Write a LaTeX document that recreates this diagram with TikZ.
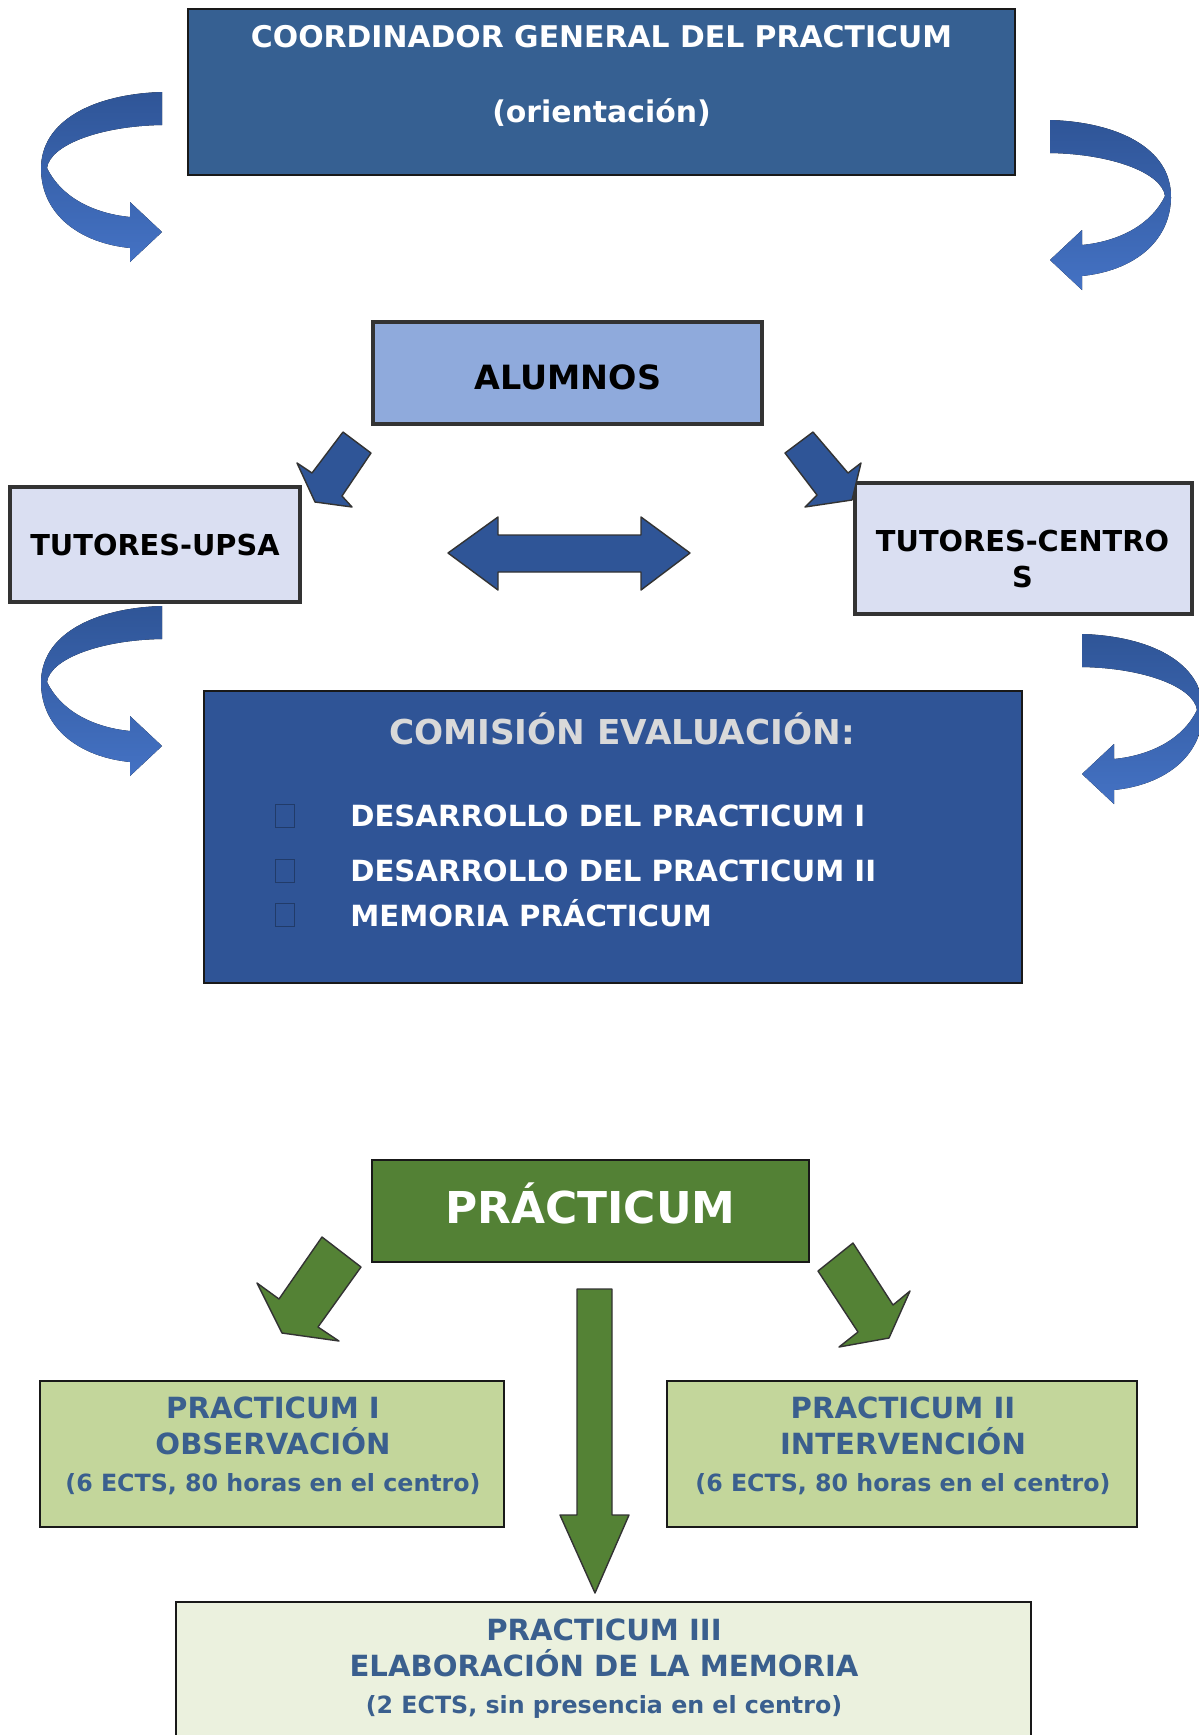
\documentclass[tikz,border=0pt]{standalone}
\usepackage{fontspec}
\setmainfont{DejaVu Sans}
\usetikzlibrary{positioning}

\definecolor{coordblue}{HTML}{366092}
\definecolor{alumblue}{HTML}{8FAADC}
\definecolor{tutblue}{HTML}{DADFF2}
\definecolor{comblue}{HTML}{2F5496}
\definecolor{arrblue}{HTML}{2F5597}
\definecolor{bendtop}{HTML}{2F5597}
\definecolor{bendbot}{HTML}{4472C4}
\definecolor{pracgreen}{HTML}{538135}
\definecolor{arrgreen}{HTML}{548235}
\definecolor{boxgreen}{HTML}{C3D69B}
\definecolor{palegreen}{HTML}{EBF1DE}
\definecolor{txtblue}{HTML}{3A5F8E}

\tikzset{
  pics/bend/.style={code={
    \fill[top color=bendtop,bottom color=bendbot]
      (0,0) -- (0,33) .. controls (-62,34) and (-112,53) .. (-115,76)
      .. controls (-102,103) and (-72,121) .. (-32,125)
      -- (-32,110) -- (0,140) -- (-32,170) -- (-32,156)
      .. controls (-82,151) and (-120,123) .. (-121,78)
      .. controls (-122,28) and (-67,2) .. (0,0) -- cycle;
  }}
}

\begin{document}
\begin{tikzpicture}[x=0.02cm,y=-0.02cm,
  box/.style={rectangle,draw=black!90,line width=1pt,
    inner sep=0pt,outer sep=0pt,align=center},
  thickbox/.style={box,draw=black!80,line width=2pt},
  txt/.style={inner sep=0pt,align=center,font=\bfseries\fontsize{16.6}{20.7}\selectfont},
  blockblue/.style={fill=arrblue,draw=black!80,line width=0.8pt,line join=round},
  blockgreen/.style={fill=arrgreen,draw=black!80,line width=0.8pt,line join=round},
  bullet/.style={rectangle,draw=comblue!70!black,line width=0.7pt,
    minimum width=0.38cm,minimum height=0.46cm,inner sep=0pt}]

\useasboundingbox (0,0) rectangle (1198,1735);

% coordinador
\node[box,fill=coordblue,minimum width=16.54cm,minimum height=3.32cm] (CG) at (601.5, 92) {};
\node[txt,white,font=\bfseries\fontsize{17}{20}\selectfont] (CGa) at (601.5, 37) {COORDINADOR GENERAL DEL PRACTICUM};
\node[txt,white,font=\bfseries\fontsize{17}{20}\selectfont] (CGb) at (601.5, 113) {(orientación)};

\pic at (162, 92) {bend};
\pic[xscale=-1] at (1050, 120) {bend};

% alumnos y tutores
\node[thickbox,fill=alumblue,minimum width=7.78cm,minimum height=2.04cm] (AL) at (567.5, 373) {};
\node[txt,font=\bfseries\fontsize{19}{22}\selectfont] (ALt) at (568, 377) {ALUMNOS};
\node[thickbox,fill=tutblue,minimum width=5.8cm,minimum height=2.3cm,
  font=\bfseries\fontsize{16.4}{20}\selectfont] (TU) at (155, 544.5) {TUTORES-UPSA};
\node[thickbox,fill=tutblue,minimum width=6.74cm,minimum height=2.62cm] (TC) at (1023.5, 548.5) {};
\node[txt,font=\bfseries\fontsize{16.4}{21}\selectfont] (TCt) at (1022.5, 559) {TUTORES-CENTRO\\S};

\draw[blockblue] (343,432) -- (371,453) -- (342,496) -- (352,507) -- (315,502) -- (297,463) -- (312,473) -- cycle;
\draw[blockblue] (813,432) -- (785,453) -- (817,495) -- (805,507) -- (852,500) -- (861,463) -- (848,473) -- cycle;
\draw[blockblue] (448,553) -- (498,517) -- (498,535) -- (641,535) -- (641,517) -- (690,553)
  -- (641,590) -- (641,572) -- (498,572) -- (498,590) -- cycle;

\pic at (162, 606) {bend};
\pic[xscale=-1] at (1082, 634) {bend};

% comision
\node[box,fill=comblue,minimum width=16.36cm,minimum height=5.84cm] (CE) at (613, 837) {};
\node[txt,text=black!15,font=\bfseries\fontsize{19.5}{22}\selectfont] (CEt) at (622, 729) {COMISIÓN EVALUACIÓN:};
\node[txt,white,anchor=west] (CE1) at (350, 816) {DESARROLLO DEL PRACTICUM I};
\node[txt,white,anchor=west] (CE2) at (350, 871) {DESARROLLO DEL PRACTICUM II};
\node[txt,white,anchor=west] (CE3) at (350, 913) {MEMORIA PRÁCTICUM};
\node[bullet] (B1) at (285, 816) {};
\node[bullet] (B2) at (285, 871) {};
\node[bullet] (B3) at (285, 915) {};

% practicum
\node[box,fill=pracgreen,minimum width=8.74cm,minimum height=2.04cm] (PR) at (590.5, 1211) {};
\node[txt,white,font=\bfseries\fontsize{25}{28}\selectfont] (PRt) at (590.5, 1203) {PRÁCTICUM};

\draw[blockgreen] (322,1237) -- (361,1267) -- (318,1327) -- (339,1341) -- (282,1333) -- (257,1283) -- (279,1299) -- cycle;
\draw[blockgreen] (853,1243) -- (818,1271) -- (858,1332) -- (839,1347) -- (889,1338) -- (910,1291) -- (893,1305) -- cycle;
\draw[blockgreen] (577,1289) -- (612,1289) -- (612,1515) -- (629,1515) -- (595,1593) -- (560,1515) -- (577,1515) -- cycle;

\node[box,fill=boxgreen,minimum width=9.28cm,minimum height=2.92cm] (P1) at (272, 1454) {};
\node[txt,text=txtblue] (P1t) at (273, 1445.5) {PRACTICUM I\\OBSERVACIÓN\\{\bfseries\fontsize{13.5}{20.7}\selectfont (6 ECTS, 80 horas en el centro)}};
\node[box,fill=boxgreen,minimum width=9.4cm,minimum height=2.92cm] (P2) at (902, 1454) {};
\node[txt,text=txtblue] (P2t) at (903, 1445.5) {PRACTICUM II\\INTERVENCIÓN\\{\bfseries\fontsize{13.5}{20.7}\selectfont (6 ECTS, 80 horas en el centro)}};
\node[box,fill=palegreen,minimum width=17.1cm,minimum height=3.16cm] (P3) at (603.5, 1681) {};
\node[txt,text=txtblue] (P3t) at (604, 1668.5) {PRACTICUM III\\ELABORACIÓN DE LA MEMORIA\\{\bfseries\fontsize{13.5}{20.7}\selectfont (2 ECTS, sin presencia en el centro)}};

\end{tikzpicture}
\end{document}
